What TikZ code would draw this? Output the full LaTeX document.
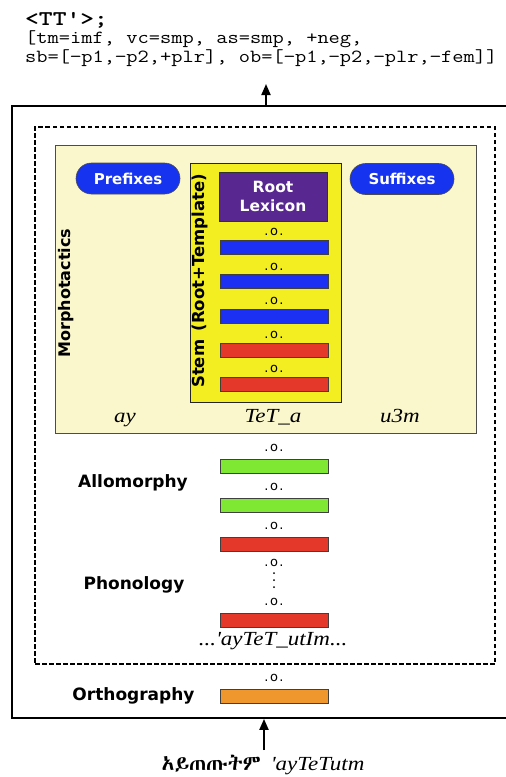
\documentclass[tikz,border=0pt]{standalone}
\usepackage{fontspec}
\setmainfont{Liberation Serif}
\newfontfamily\labfont{DejaVu Sans}
\IfFontExistsTF{Abyssinica SIL}{\newfontfamily\ethfont{Abyssinica SIL}}{%
  \IfFontExistsTF{FreeSerif}{\newfontfamily\ethfont{FreeSerif}}{\newfontfamily\ethfont{DejaVu Sans}}}
\usetikzlibrary{arrows.meta}
\definecolor{cream}{HTML}{FBF7CD}
\definecolor{stemyel}{HTML}{F3EE22}
\definecolor{rootpur}{HTML}{58278F}
\definecolor{barblue}{HTML}{1B30F2}
\definecolor{barred}{HTML}{E3382A}
\definecolor{bargreen}{HTML}{7EE832}
\definecolor{barorange}{HTML}{EF962C}
\definecolor{pillblue}{HTML}{1633F0}
\newcommand{\oo}{.\kern1.4pt o\kern1.4pt .}
\newcommand{\wid}[1]{\scalebox{1.15}[1]{#1}}
\newcommand{\monowid}[1]{\scalebox{1.18}[1]{#1}}
\tikzset{
  lab/.style={font={\labfont\bfseries\fontsize{17}{20}\selectfont}, inner sep=0pt, anchor=base},
  comp/.style={font={\labfont\fontsize{13}{14}\selectfont}, inner sep=0pt},
  bar/.style={draw=black!75, line width=0.6pt, minimum width=108pt, minimum height=14pt, inner sep=0pt},
  pill/.style={draw=black!70, fill=pillblue, line width=0.6pt, rounded corners=15.5pt, minimum width=104pt, minimum height=31pt, inner sep=0pt, text=white, font={\labfont\bfseries\fontsize{15}{18}\selectfont}},
  itl/.style={font={\itshape\fontsize{20}{22}\selectfont}, inner sep=0pt, anchor=base},
  monoline/.style={font={\ttfamily\fontsize{18.5}{20}\selectfont}, inner sep=0pt, anchor=base west},
  arr/.style={line width=2pt, -{Triangle[length=11pt,width=9pt]}},
}
\begin{document}
\begin{tikzpicture}[x=1pt,y=-1pt]
\useasboundingbox (0,0) rectangle (506,777);
% top feature text
\node[monoline, font={\ttfamily\bfseries\fontsize{21}{22}\selectfont}] (l1) at (25,25) {\scalebox{1.25}[1]{<TT\textquotesingle>;}};
\node[monoline] (l2) at (25,43) {\monowid{[tm=imf, vc=smp, as=smp, +neg,}};
\node[monoline] (l3) at (25,62) {\monowid{sb=[−p1,−p2,+plr], ob=[−p1,−p2,−plr,−fem]]}};
% outer and dashed boxes
\node[draw, line width=1.8pt, minimum width=500pt, minimum height=612pt, inner sep=0pt] (outer) at (262,412) {};
\node[draw, line width=2pt, dash pattern=on 4.5pt off 2.5pt, minimum width=460pt, minimum height=537pt, inner sep=0pt] (tf) at (265,395.5) {};
% morphotactics
\node[draw=black!70, line width=0.8pt, fill=cream, minimum width=421pt, minimum height=288pt, inner sep=0pt] (morph) at (265.5,289) {};
\node[font={\labfont\bfseries\fontsize{16}{18}\selectfont}, rotate=90, inner sep=0pt] (morphlab) at (66,293) {Morphotactics};
\node[pill] (pre) at (128,178.5) {Prefixes};
\node[pill] (suf) at (402,179) {Suffixes};
% stem
\node[draw=black!85, line width=1pt, fill=stemyel, minimum width=151pt, minimum height=239pt, inner sep=0pt] (stem) at (265.5,282.5) {};
\node[font={\labfont\bfseries\fontsize{16.5}{18}\selectfont}, rotate=90, inner sep=0pt] (stemlab) at (200,281) {Stem\enspace(Root+Template)};
\node[draw=black!80, line width=0.8pt, fill=rootpur, minimum width=108pt, minimum height=49pt, inner sep=0pt, text=white, align=center, font={\labfont\bfseries\fontsize{15.5}{19}\selectfont}] (root) at (273,196.5) {Root\\Lexicon};
\node[comp] (c1) at (274,232) {\oo};
\node[bar, fill=barblue] (s1) at (274,247) {};
\node[comp] (c2) at (274,266.5) {\oo};
\node[bar, fill=barblue] (s2) at (274,281.5) {};
\node[comp] (c3) at (274,301) {\oo};
\node[bar, fill=barblue] (s3) at (274,316) {};
\node[comp] (c4) at (274,335) {\oo};
\node[bar, fill=barred] (s4) at (274,350) {};
\node[comp] (c5) at (274,369) {\oo};
\node[bar, fill=barred] (s5) at (274,384.5) {};
% italic morph labels
\node[itl] (ay) at (125,422) {\wid{ay}};
\node[itl] (tet) at (273,422) {\wid{TeT\_a}};
\node[itl] (u3m) at (400,422) {\wid{u3m}};
% allomorphy
\node[comp] (c6) at (274,448) {\oo};
\node[bar, fill=bargreen] (a1) at (274,466) {};
\node[comp] (c7) at (274,487) {\oo};
\node[bar, fill=bargreen] (a2) at (274,505) {};
\node[comp] (c8) at (274,526) {\oo};
\node[bar, fill=barred] (p1) at (274,544) {};
\node[comp] (c9) at (274,563) {\oo};
\fill (274,573) circle (1pt) (274,580) circle (1pt) (274,587) circle (1pt);
\node[comp] (c10) at (274,602) {\oo};
\node[bar, fill=barred] (p2) at (274,620.5) {};
\node[itl] (surf) at (273,645) {\wid{...\textquotesingle ayTeT\_utIm...}};
\node[lab] (allo) at (133,487) {Allomorphy};
\node[lab] (phon) at (134,589) {Phonology};
% orthography
\node[comp] (c11) at (274,678) {\oo};
\node[bar, fill=barorange] (o1) at (274,696) {};
\node[lab] (orth) at (133.5,700) {Orthography};
% input word
\node[inner sep=0pt, anchor=base] (input) at (263,770) {{\ethfont\fontsize{21}{22}\selectfont አይጠጡትም}\hspace{10pt}{\itshape\fontsize{20}{22}\selectfont\wid{\textquotesingle ayTeTutm}}};
% arrows
\coordinate (toptip) at (266,84);
\draw[arr] (toptip |- outer.north) -- (toptip);
\draw[arr] (264,750) coordinate (inbase) -- (inbase |- outer.south);
\end{tikzpicture}
\end{document}
